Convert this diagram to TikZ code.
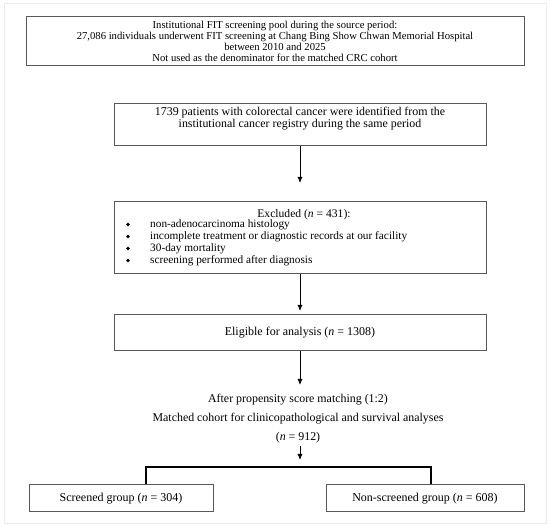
\documentclass[tikz,border=0pt]{standalone}
\usepackage{fontspec}
\setmainfont{Liberation Serif}
\usetikzlibrary{arrows.meta}
\begin{document}
\begin{tikzpicture}[x=1pt,y=-1pt,
  box/.style={draw=black!65,line width=1pt,inner sep=0pt,align=center},
  arr/.style={-{Latex[length=6pt,width=5pt]},line width=0.8pt},
  link/.style={line width=1.2pt},
  txt/.style={inner sep=0pt,align=center},
  item/.style={inner sep=0pt,anchor=base west,font=\fontsize{11.3}{12}\selectfont},
  dot/.style={circle,fill=black,inner sep=0pt,minimum size=3.6pt}]
\useasboundingbox (0,0) rectangle (550,526);
\draw[black!8,line width=0.6pt] (4,3) rectangle (546,523);
% boxes
\node[box,minimum width=498pt,minimum height=49pt,font=\fontsize{10.65}{10.8}\selectfont] (pool) at (275,41.5)
  {Institutional FIT screening pool during the source period:\\27,086 individuals underwent FIT screening at Chang Bing Show Chwan Memorial Hospital\\between 2010 and 2025\\Not used as the denominator for the matched CRC cohort};
\node[box,minimum width=372pt,minimum height=42pt] (crc) at (300,125) {};
\node[txt,font=\fontsize{11.9}{12.5}\selectfont] (crct) at (300,118.5)
  {1739 patients with colorectal cancer were identified from the\\institutional cancer registry during the same period};
\node[box,minimum width=372pt,minimum height=72pt] (excl) at (300,238) {};
\node[txt,font=\fontsize{11.6}{12}\selectfont] (exclt) at (304,214.5) {Excluded (\textit{n} = 431):};
\node[dot] (b1) at (128,224.5) {};
\node[dot] (b2) at (128,236.5) {};
\node[dot] (b3) at (128,248.5) {};
\node[dot] (b4) at (128,260.5) {};
\node[item] (i1) at (150,228) {non-adenocarcinoma histology};
\node[item] (i2) at (150,240) {incomplete treatment or diagnostic records at our facility};
\node[item] (i3) at (150,252) {30-day mortality};
\node[item] (i4) at (150,264) {screening performed after diagnosis};
\node[box,minimum width=372pt,minimum height=36pt,font=\fontsize{12}{13}\selectfont] (elig) at (300,333)
  {Eligible for analysis (\textit{n} = 1308)};
\node[txt,font=\fontsize{11.9}{19}\selectfont] (match) at (298,418.5)
  {After propensity score matching (1:2)\\Matched cohort for clinicopathological and survival analyses\\(\textit{n} = 912)};
\node[box,minimum width=184pt,minimum height=27pt,font=\fontsize{12}{13}\selectfont] (scr) at (121,498.5)
  {Screened group (\textit{n} = 304)};
\node[box,minimum width=198pt,minimum height=27pt,font=\fontsize{12}{13}\selectfont] (non) at (425,498.5)
  {Non-screened group (\textit{n} = 608)};
% connectors
\coordinate (a1) at (300,183);
\coordinate (a2) at (300,311);
\coordinate (a3) at (300,385);
\coordinate (s0) at (300,446);
\coordinate (s1) at (300,460);
\coordinate (bl) at (146,467);
\coordinate (br) at (431,467);
\draw[arr] (crc.south -| a1) -- (a1);
\draw[arr] (excl.south -| a2) -- (a2);
\draw[arr] (elig.south -| a3) -- (a3);
\draw[arr] (s0) -- (s1);
\draw[link] (bl |- scr.north) -- (bl) -- (br) -- (br |- non.north);
\end{tikzpicture}
\end{document}
